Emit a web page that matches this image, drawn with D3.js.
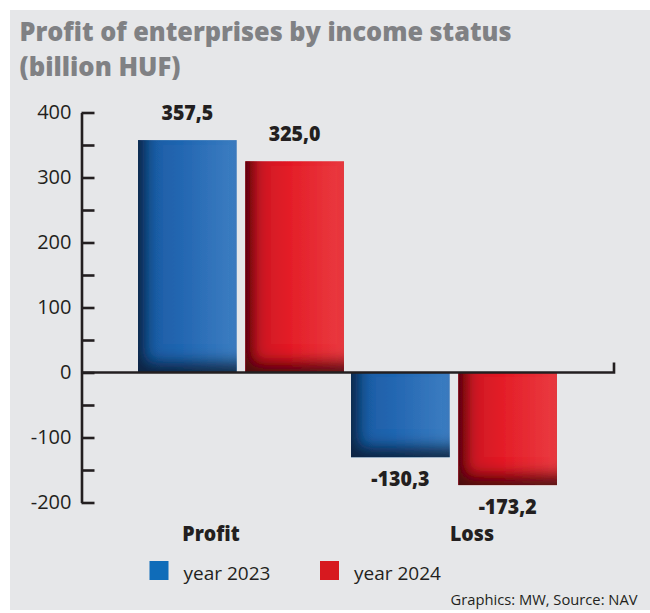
<!DOCTYPE html>
<html>
<head>
<meta charset="utf-8">
<style>
  html, body { margin: 0; padding: 0; background: #fff; }
  svg { display: block; }
</style>
</head>
<body>
<svg width="650" height="613" font-family="'Open Sans', sans-serif"></svg>
<script src="https://d3js.org/d3.v7.min.js"></script>
<script>

    // chart data
    var categories = ["Profit", "Loss"];
    var years = ["year 2023", "year 2024"];
    var values2023 = [357.5, -130.3];
    var values2024 = [325.0, -173.2];
    var yTickValues = [-200, -100, 0, 100, 200, 300, 400];
    var yMinorTicks = [-150, -50, 50, 150, 250, 350];
    var titleLines = ["Profit of enterprises by income status", "(billion HUF)"];
    var sourceNote = "Graphics: MW, Source: NAV";

    var svg = d3.select("svg"),
        width = +svg.attr("width"),
        height = +svg.attr("height");

    var ink = "#231f20";

    var locale = d3.formatLocale({decimal: ",", thousands: " ", grouping: [3], currency: ["", ""], minus: "-"});
    var fmtValue = locale.format(".1f"),
        fmtTick = locale.format("d");

    var rows = categories.map(function(c, i) {
        return {cat: c, vals: [
            {year: years[0], v: values2023[i], s: 0},
            {year: years[1], v: values2024[i], s: 1}
        ]};
    });

    var y = d3.scaleLinear().domain([-200, 400]).range([502.5, 112.5]);

    var x0 = d3.scaleBand().domain(categories).range([138, 557]).paddingInner(0.033);
    var x1 = d3.scaleBand().domain(years).range([0, x0.bandwidth()]).paddingInner(0.08);

    var fillMain = ["#2467b2", "#e41e28"],
        fillLeft = ["#1c5aa0", "#c41c24"],
        fillRight = ["#3d7ec2", "#ea3b41"],
        shade = ["#0b1629", "#260809"],
        legendCol = ["#0f6cb9", "#d7191f"];

    // background
    svg.append("rect")
        .attr("x", 10).attr("y", 10)
        .attr("width", width - 10).attr("height", 600)
        .attr("fill", "#e6e7e9");

    // title
    svg.append("g").selectAll("text")
        .data(titleLines)
        .enter().append("text")
        .attr("x", 19.5)
        .attr("y", function(d, i) { return 40.5 + i * 35; })
        .attr("font-size", 26)
        .attr("font-weight", 800)
        .attr("fill", "#808184")
        .attr("textLength", function(d, i) { return i == 0 ? 492 : 161; })
        .attr("lengthAdjust", "spacingAndGlyphs")
        .text(function(d) { return d; });

    var defs = svg.append("defs");

    [0, 1].forEach(function(s) {
        var g = defs.append("linearGradient")
            .attr("id", "fill-" + s)
            .attr("x1", 0).attr("x2", 1).attr("y1", 0).attr("y2", 0);
        g.append("stop").attr("offset", "0%").attr("stop-color", fillLeft[s]);
        g.append("stop").attr("offset", "45%").attr("stop-color", fillMain[s]);
        g.append("stop").attr("offset", "100%").attr("stop-color", fillRight[s]);

        // inner shadow on left and bottom edges
        var f = defs.append("filter")
            .attr("id", "shade-" + s)
            .attr("x", "-20%").attr("y", "-20%")
            .attr("width", "140%").attr("height", "140%");
        f.append("feOffset").attr("in", "SourceAlpha").attr("dx", 9).attr("dy", -12).attr("result", "off");
        f.append("feGaussianBlur").attr("in", "off").attr("stdDeviation", 7).attr("result", "blur");
        f.append("feComposite").attr("operator", "out").attr("in", "SourceAlpha").attr("in2", "blur").attr("result", "inv");
        f.append("feFlood").attr("flood-color", shade[s]).attr("flood-opacity", 0.9).attr("result", "col");
        f.append("feComposite").attr("operator", "in").attr("in", "col").attr("in2", "inv").attr("result", "sh");
        var m = f.append("feMerge");
        m.append("feMergeNode").attr("in", "SourceGraphic");
        m.append("feMergeNode").attr("in", "sh");
    });

    // bars
    var group = svg.append("g").selectAll("g")
        .data(rows)
        .enter().append("g")
        .attr("transform", function(d) { return "translate(" + x0(d.cat) + ",0)"; });

    group.selectAll("rect")
        .data(function(d) { return d.vals; })
        .enter().append("rect")
        .attr("x", function(d) { return x1(d.year); })
        .attr("y", function(d) { return y(Math.max(0, d.v)); })
        .attr("width", x1.bandwidth())
        .attr("height", function(d) { return Math.abs(y(d.v) - y(0)); })
        .attr("fill", function(d) { return "url(#fill-" + d.s + ")"; })
        .attr("filter", function(d) { return "url(#shade-" + d.s + ")"; });

    // value labels
    group.selectAll("text.val")
        .data(function(d) { return d.vals; })
        .enter().append("text")
        .attr("class", "val")
        .attr("x", function(d) { return x1(d.year) + x1.bandwidth() / 2; })
        .attr("y", function(d) { return d.v >= 0 ? y(d.v) - 20 : y(d.v) + 29; })
        .attr("text-anchor", "middle")
        .attr("font-size", 21)
        .attr("font-weight", 800)
        .attr("fill", ink)
        .text(function(d) { return fmtValue(d.v); })
        .each(function() {
            var w = this.getComputedTextLength();
            d3.select(this).attr("textLength", w * 0.93).attr("lengthAdjust", "spacingAndGlyphs");
        });

    // category labels
    var catDx = {Profit: -30, Loss: 18};
    svg.append("g").selectAll("text")
        .data(categories)
        .enter().append("text")
        .attr("x", function(d) { return x0(d) + x0.bandwidth() / 2 + catDx[d]; })
        .attr("y", 541)
        .attr("text-anchor", "middle")
        .attr("font-size", 21)
        .attr("font-weight", 800)
        .attr("fill", ink)
        .text(function(d) { return d; })
        .each(function() {
            var w = this.getComputedTextLength();
            d3.select(this).attr("textLength", w * 0.93).attr("lengthAdjust", "spacingAndGlyphs");
        });

    // y axis, ticks pointing right, labels on the left
    var axisX = 81.5;
    var yAxis = svg.append("g")
        .attr("transform", "translate(" + axisX + ",0)")
        .call(d3.axisLeft(y)
            .tickValues(yTickValues)
            .tickSizeInner(-13)
            .tickSizeOuter(0)
            .tickPadding(10)
            .tickFormat(fmtTick));
    yAxis.select(".domain").attr("stroke", ink).attr("stroke-width", 2.6);
    yAxis.selectAll(".tick line").attr("stroke", ink).attr("stroke-width", 2.6);
    yAxis.selectAll(".tick text")
        .attr("fill", ink)
        .attr("font-size", 20)
        .attr("font-family", "'Open Sans', sans-serif");

    var yMinor = svg.append("g")
        .attr("transform", "translate(" + axisX + ",0)")
        .call(d3.axisLeft(y)
            .tickValues(yMinorTicks)
            .tickSizeInner(-13)
            .tickSizeOuter(0)
            .tickFormat(""));
    yMinor.select(".domain").remove();
    yMinor.selectAll(".tick line").attr("stroke", ink).attr("stroke-width", 2.6);

    // zero line with end tick
    var zeroEnd = 614;
    svg.append("path")
        .attr("d", "M" + axisX + "," + y(0) + "H" + zeroEnd + "V" + (y(0) - 10))
        .attr("fill", "none")
        .attr("stroke", ink)
        .attr("stroke-width", 2.6);

    // legend
    var legend = svg.append("g").selectAll("g")
        .data(years)
        .enter().append("g")
        .attr("transform", function(d, i) { return "translate(" + (149.5 + i * 170.5) + ",561)"; });

    legend.append("rect")
        .attr("width", 19).attr("height", 19)
        .attr("fill", function(d, i) { return legendCol[i]; });

    legend.append("text")
        .attr("x", 34)
        .attr("y", 19)
        .attr("font-size", 19)
        .attr("fill", ink)
        .text(function(d) { return d; });

    // source note
    svg.append("text")
        .attr("x", 637.5)
        .attr("y", 605)
        .attr("text-anchor", "end")
        .attr("font-size", 14)
        .attr("fill", ink)
        .attr("textLength", 187)
        .attr("lengthAdjust", "spacingAndGlyphs")
        .text(sourceNote);

</script>
</body>
</html>
